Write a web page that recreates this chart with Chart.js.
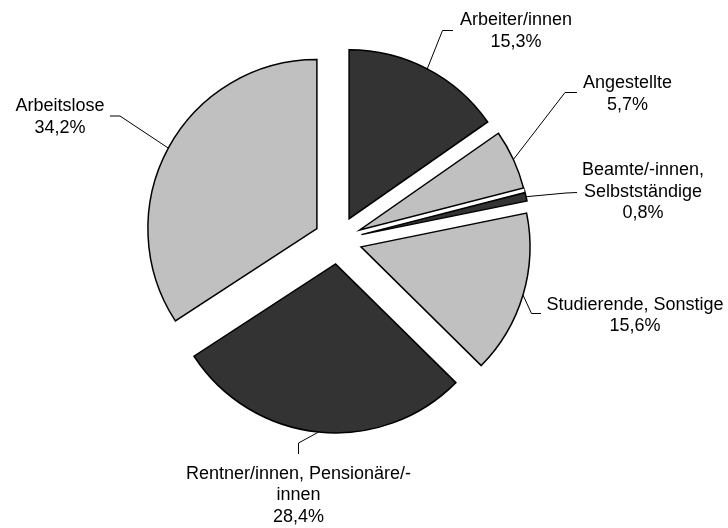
<!DOCTYPE html>
<html>
<head>
<meta charset="utf-8">
<script src="https://cdn.jsdelivr.net/npm/chart.js@4"></script>
<style>
    html, body { margin: 0; padding: 0; background: #fff; }
    canvas { display: block; }
</style>
</head>
<body>
<canvas id="pie" width="728" height="528"></canvas>
<script>
// ----------data----------//
const categories = [
    ['Arbeiter/innen'],
    ['Angestellte'],
    ['Beamte/-innen,', 'Selbstständige'],
    ['Studierende, Sonstige'],
    ['Rentner/innen, Pensionäre/-', 'innen'],
    ['Arbeitslose']
];
const shares = [15.3, 5.7, 0.8, 15.6, 28.4, 34.2];
const sliceColors = ['#333333', '#c0c0c0', '#333333', '#c0c0c0', '#333333', '#c0c0c0'];

// ----------where the labels sit: text centre x, first baseline y, leader elbow and end----------//
const labelSpots = [
    { x: 516, y: 25, elbow: [442.5, 30.5], end: [453, 30.5] },
    { x: 627.5, y: 88, elbow: [565, 92.5], end: [577, 92.5] },
    { x: 643, y: 175, elbow: [566, 193], end: [577, 192.5] },
    { x: 635, y: 309.5, elbow: [531.5, 313.5], end: [541, 313.5] },
    { x: 298.5, y: 478.5, elbow: [298.5, 443], end: [298.5, 454] },
    { x: 60, y: 111, elbow: [120, 116], end: [110, 116] }
];
const explode = 24,
    lineGap = 21.7;

//-----pushes every slice out along its middle angle (same distance for all)-----//
const explodePlugin = {
    id: 'explode',
    afterDatasetUpdate(chart, args) {
        chart.getDatasetMeta(args.index).data.forEach(arc => {
            const mid = (arc.startAngle + arc.endAngle) / 2;
            arc.x += Math.cos(mid) * explode;
            arc.y += Math.sin(mid) * explode;
        });
    }
};

//-----labels with leader lines starting at the middle of each outer arc-----//
const leaderLabels = {
    id: 'leaderLabels',
    afterDatasetsDraw(chart) {
        const ctx = chart.ctx;
        const arcs = chart.getDatasetMeta(0).data;
        ctx.save();
        ctx.strokeStyle = '#000';
        ctx.fillStyle = '#000';
        ctx.lineWidth = 1;
        ctx.font = '18px "Liberation Sans", Arial, sans-serif';
        ctx.textAlign = 'center';
        ctx.textBaseline = 'alphabetic';
        arcs.forEach((arc, i) => {
            const spot = labelSpots[i];
            const mid = (arc.startAngle + arc.endAngle) / 2;
            ctx.beginPath();
            ctx.moveTo(arc.x + Math.cos(mid) * arc.outerRadius, arc.y + Math.sin(mid) * arc.outerRadius);
            ctx.lineTo(spot.elbow[0], spot.elbow[1]);
            ctx.lineTo(spot.end[0], spot.end[1]);
            ctx.stroke();
            const lines = categories[i].concat(shares[i].toFixed(1).replace('.', ',') + '%');
            lines.forEach((t, k) => ctx.fillText(t, spot.x, spot.y + k * lineGap));
        });
        ctx.restore();
    }
};

new Chart(document.getElementById('pie'), {
    type: 'pie',
    data: {
        labels: categories,
        datasets: [{
            data: shares,
            backgroundColor: sliceColors,
            borderColor: '#000',
            borderWidth: 1.5,
            borderJoinStyle: 'miter',
            radius: 169
        }]
    },
    options: {
        responsive: false,
        animation: false,
        events: [],
        layout: { padding: { left: 0, right: 52, top: 0, bottom: 48 } },
        plugins: {
            legend: { display: false },
            tooltip: { enabled: false }
        }
    },
    plugins: [explodePlugin, leaderLabels]
});
</script>
</body>
</html>
